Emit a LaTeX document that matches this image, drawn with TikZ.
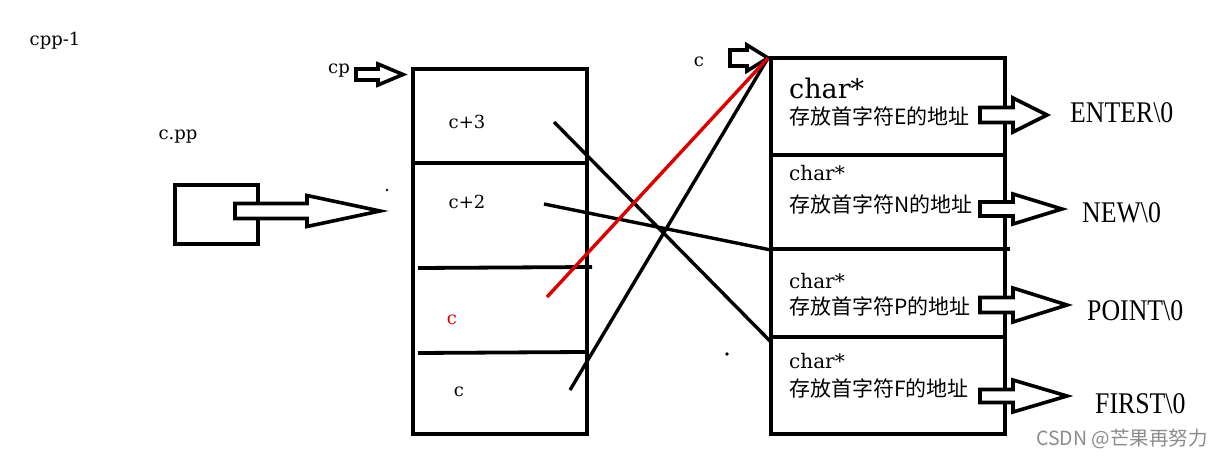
\documentclass[tikz,border=0pt]{standalone}
\usepackage{fontspec}
\setmainfont{Liberation Serif}
\newfontfamily\lblfont{DejaVu Serif}
\newfontfamily\cjk{Noto Sans CJK SC}
\newfontfamily\wmfont{Noto Sans CJK SC}
\newcommand{\blockarr}[6]{% x0, xh, xtip, yc, half shaft, half head
  \draw[barrow] (#1,#4-#5) -- (#2,#4-#5) -- (#2,#4-#6) -- (#3,#4) -- (#2,#4+#6) -- (#2,#4+#5) -- (#1,#4+#5) -- cycle;}
\begin{document}
\begin{tikzpicture}[x=1pt,y=-1pt,
  box/.style={draw,line width=3.8pt,fill=none},
  sep/.style={line width=3.8pt},
  barrow/.style={line width=3.6pt,line join=miter,fill=white},
  link/.style={line width=3.4pt},
  redlink/.style={line width=3.4pt,draw=red!85!black},
  lbl/.style={inner sep=0pt,font=\lblfont\fontsize{18}{18}\selectfont},
  chr/.style={inner sep=0pt,anchor=west,font=\lblfont\fontsize{20}{20}\selectfont},
  zh/.style={inner sep=0pt,anchor=west,font=\cjk\fontsize{21}{21}\selectfont},
  str/.style={inner sep=0pt,anchor=west,font=\fontsize{30}{30}\selectfont,xscale=0.86,transform shape}]
\useasboundingbox (0,0) rectangle (1222,457);
\fill[white] (0,0) rectangle (1222,457);
% labels on the left
\node[lbl] (cpp1) at (55,41) {cpp-1};
\node[lbl] (cpp) at (178,137) {c.pp};
\node[lbl] (cp) at (339,71) {cp};
\node[lbl] (ctop) at (699,62) {c};
% small box cpp
\node[box,minimum width=83pt,minimum height=59pt,inner sep=0pt] (cppbox) at (216.5,214.5) {};
\blockarr{235}{307}{380}{211}{7.5}{15.5}
% cp arrow
\blockarr{356}{378}{403}{74.5}{5.5}{10.5}
% c arrow
\blockarr{730}{747}{768}{58}{8}{13}
% left box
\node[box,minimum width=174pt,minimum height=365pt,inner sep=0pt] (lbox) at (500,251.5) {};
\draw[sep] (413,163) -- (587,163);
\draw[sep] (418,268) -- (592,267);
\draw[sep] (418,353) -- (585,352);
\node[lbl] (c3) at (467,122) {c+3};
\node[lbl] (c2) at (467,202) {c+2};
\node[lbl,text=red!85!black] (cred) at (452,320) {c};
\node[lbl] (cbot) at (459,392) {c};
% right box
\node[box,minimum width=234pt,minimum height=376pt,inner sep=0pt] (rbox) at (888,246) {};
\draw[sep] (771,155) -- (1005,155);
\draw[sep] (771,249) -- (1010,249);
\draw[sep] (771,337) -- (1005,337);
% right box texts
\node[chr,font=\lblfont\fontsize{27}{27}\selectfont] (ch1) at (789,88) {char*};
\node[zh] (z1) at (789,116) {存放首字符E的地址};
\node[chr] (ch2) at (789,173) {char*};
\node[zh] (z2) at (789,204) {存放首字符N的地址};
\node[chr] (ch3) at (789,281) {char*};
\node[zh] (z3) at (789,306) {存放首字符P的地址};
\node[chr] (ch4) at (789,361) {char*};
\node[zh] (z4) at (789,388) {存放首字符F的地址};
% block arrows to strings
\blockarr{980}{1013}{1047}{115}{7.5}{17}
\blockarr{980}{1013}{1062}{209}{7}{15}
\blockarr{980}{1013}{1067}{305}{7.5}{17}
\blockarr{980}{1013}{1067}{396}{6.5}{16}
\node[str] (s1) at (1070,113) {ENTER\textbackslash 0};
\node[str] (s2) at (1082,213) {NEW\textbackslash 0};
\node[str] (s3) at (1087,311) {POINT\textbackslash 0};
\node[str] (s4) at (1095,404) {FIRST\textbackslash 0};
% connectors
\coordinate (topc) at (768,58);
\coordinate (p3) at (554,122);
\coordinate (e3) at (771,342);
\coordinate (p2) at (544,204);
\coordinate (e2) at (771,250);
\coordinate (pred) at (547,297);
\coordinate (pbot) at (570,390);
\draw[link] (p3) -- (e3);
\draw[link] (p2) -- (e2);
\draw[link] (pbot) -- (topc);
\draw[redlink] (pred) -- (topc);
% stray dots
\fill (387,190) circle (1.3pt);
\fill (727,354) circle (1.8pt);
% watermark
\node[inner sep=0pt,text=black!45,font=\wmfont\fontsize{19.5}{19.5}\selectfont] (wm) at (1122,439) {CSDN @芒果再努力};
\end{tikzpicture}
\end{document}
